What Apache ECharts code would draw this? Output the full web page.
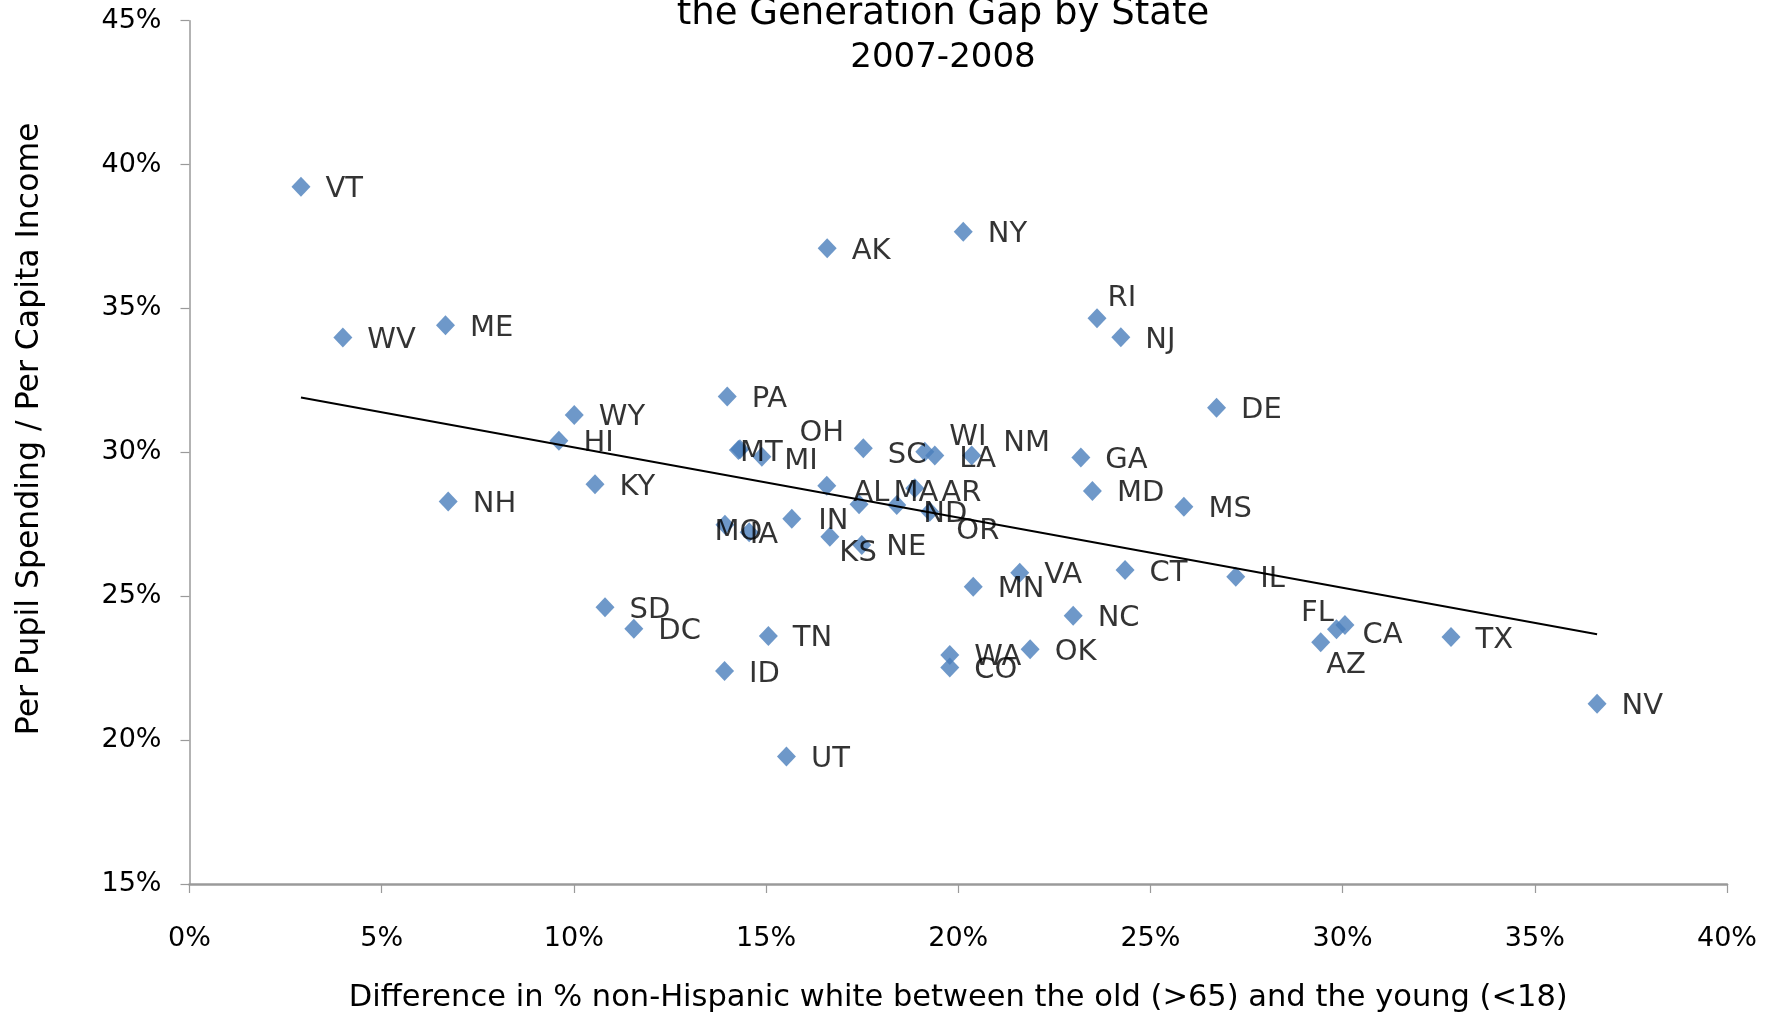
<!DOCTYPE html>
<html>
<head>
<meta charset="utf-8">
<title>Per Pupil Spending and the Generation Gap by State</title>
<script src="https://cdn.jsdelivr.net/npm/echarts@6/dist/echarts.min.js"></script>
<style>
  html, body { margin: 0; padding: 0; background: #ffffff; }
  #chart { width: 1779px; height: 1016px; }
</style>
</head>
<body>
<div id="chart"></div>
<script>
// State abbreviations (50 states + DC)
const states = [
  'VT','WV','ME','NH','HI','WY','KY','SD','DC','ID',
  'PA','MT','OH','MI','MO','IA','TN','IN','UT','AK',
  'AL','KS','NE','SC','MA','ND','AR','OR','WI','LA',
  'NM','NY','MN','VA','WA','CO','OK','NC','GA','MD',
  'RI','NJ','CT','MS','DE','IL','AZ','FL','CA','TX','NV'
];

// Difference in % non-Hispanic white, old (>65) minus young (<18), in percent
const whiteGap = [
  2.90, 3.99, 6.66, 6.73, 9.61, 10.01, 10.55, 10.81, 11.56, 13.92,
  13.99, 14.28, 14.32, 14.89, 13.93, 14.56, 15.06, 15.67, 15.53, 16.59,
  16.58, 16.66, 17.49, 17.53, 17.42, 18.40, 18.87, 19.26, 19.13, 19.39,
  20.35, 20.13, 20.39, 21.60, 19.78, 19.78, 21.87, 22.99, 23.19, 23.49,
  23.61, 24.23, 24.34, 25.87, 26.72, 27.22, 29.43, 29.84, 30.06, 32.82, 36.62
];

// Per pupil spending / per capita income, in percent
const spendingRatio = [
  39.23, 33.99, 34.42, 28.29, 30.40, 31.30, 28.89, 24.62, 23.87, 22.40,
  31.94, 30.08, 30.11, 29.85, 27.48, 27.22, 23.62, 27.69, 19.43, 37.09,
  28.84, 27.07, 26.78, 30.14, 28.20, 28.17, 28.75, 27.94, 30.02, 29.89,
  29.89, 37.67, 25.33, 25.82, 22.96, 22.52, 23.16, 24.32, 29.82, 28.66,
  34.66, 34.00, 25.91, 28.11, 31.55, 25.68, 23.40, 23.85, 24.00, 23.58, 21.26
];

// Axis ranges: [min, max, step] in percent
const xRange = [0, 40, 5];
const yRange = [15, 45, 5];

// Hand-placed label nudges [dx, dy] for crowded spots
const labelNudge = {
  MT: [-23, 0], MI: [-2, 2], OH: [35, -19], SC: [0, 4], WI: [0, -17],
  LA: [0, 1], NM: [7, -15], AL: [2, 5], MA: [10, -14], AR: [2, 2],
  ND: [2, 6], OR: [2, 17], MO: [-35, 5], IA: [-24, 0], IN: [2, 0],
  KS: [-15, 14], NE: [0, -1], FL: [-60, -19], CA: [-7, 7], AZ: [-19, 20],
  RI: [-14, -23]
};
const baseShift = 3;

const FONT = 'DejaVu Sans';

// Least-squares trend line across the data's x span
function trendLine(xs, ys) {
  const n = xs.length;
  let sx = 0, sy = 0, sxx = 0, sxy = 0;
  for (let i = 0; i < n; i++) {
    sx += xs[i]; sy += ys[i];
    sxx += xs[i] * xs[i]; sxy += xs[i] * ys[i];
  }
  const slope = (n * sxy - sx * sy) / (n * sxx - sx * sx);
  const intercept = (sy - slope * sx) / n;
  const x0 = Math.min(...xs), x1 = Math.max(...xs);
  return [[x0, intercept + slope * x0], [x1, intercept + slope * x1]];
}

const points = states.map((s, i) => ({ name: s, value: [whiteGap[i], spendingRatio[i]] }));

const chart = echarts.init(document.getElementById('chart'), null, { renderer: 'canvas' });

chart.setOption({
  animation: false,
  backgroundColor: '#ffffff',
  textStyle: { fontFamily: FONT },
  title: {
    text: '{a|the Generation Gap by State}\n{b|2007-2008}',
    left: 938,
    top: -13,
    textAlign: 'center',
    textStyle: {
      fontFamily: FONT,
      fontWeight: 'normal',
      color: '#000000',
      rich: {
        a: { fontFamily: FONT, fontSize: 37, lineHeight: 44, color: '#000000' },
        b: { fontFamily: FONT, fontSize: 34, lineHeight: 44, color: '#000000' }
      }
    }
  },
  grid: {
    left: 189.5, right: 52, top: 20.7, bottom: 132,
    containLabel: false,
    outerBoundsMode: 'none'
  },
  xAxis: {
    type: 'value',
    min: xRange[0], max: xRange[1], interval: xRange[2],
    name: 'Difference in % non-Hispanic white between the old (>65) and the young (<18)',
    nameLocation: 'middle',
    nameGap: 99,
    nameTextStyle: { fontFamily: FONT, fontSize: 30.5, color: '#000000' },
    axisLine: { show: true, onZero: false, lineStyle: { color: '#9a9a9a', width: 2.5 } },
    axisTick: { show: true, length: 9, lineStyle: { color: '#9a9a9a', width: 1.2 } },
    axisLabel: {
      margin: 41,
      fontFamily: FONT, fontSize: 27, color: '#000000',
      formatter: v => v + '%'
    },
    splitLine: { show: false }
  },
  yAxis: {
    type: 'value',
    min: yRange[0], max: yRange[1], interval: yRange[2],
    name: 'Per Pupil Spending / Per Capita Income',
    nameLocation: 'middle',
    nameGap: 144,
    nameTextStyle: { fontFamily: FONT, fontSize: 31.5, color: '#000000', padding: [0, 0, 0, 47] },
    axisLine: { show: true, onZero: false, lineStyle: { color: '#9a9a9a', width: 1.5 } },
    axisTick: { show: true, length: 9, lineStyle: { color: '#9a9a9a', width: 1.2 } },
    axisLabel: {
      margin: 28,
      fontFamily: FONT, fontSize: 27, color: '#000000',
      formatter: v => v + '%'
    },
    splitLine: { show: false }
  },
  series: [
    {
      type: 'scatter',
      data: points,
      symbol: 'diamond',
      symbolSize: [19, 20],
      itemStyle: { color: '#4a7ebb' },
      z: 2,
      label: {
        show: true,
        position: 'right',
        distance: 15,
        formatter: p => p.name,
        fontFamily: FONT,
        fontSize: 29,
        color: '#000000'
      },
      labelLayout: function (params) {
        const nudge = labelNudge[states[params.dataIndex]] || [0, 0];
        return { dx: nudge[0], dy: nudge[1] + baseShift, hideOverlap: false };
      },
      emphasis: { disabled: true }
    },
    {
      type: 'line',
      data: trendLine(whiteGap, spendingRatio),
      symbol: 'none',
      lineStyle: { color: '#000000', width: 2 },
      z: 3,
      silent: true
    }
  ]
});
</script>
</body>
</html>
